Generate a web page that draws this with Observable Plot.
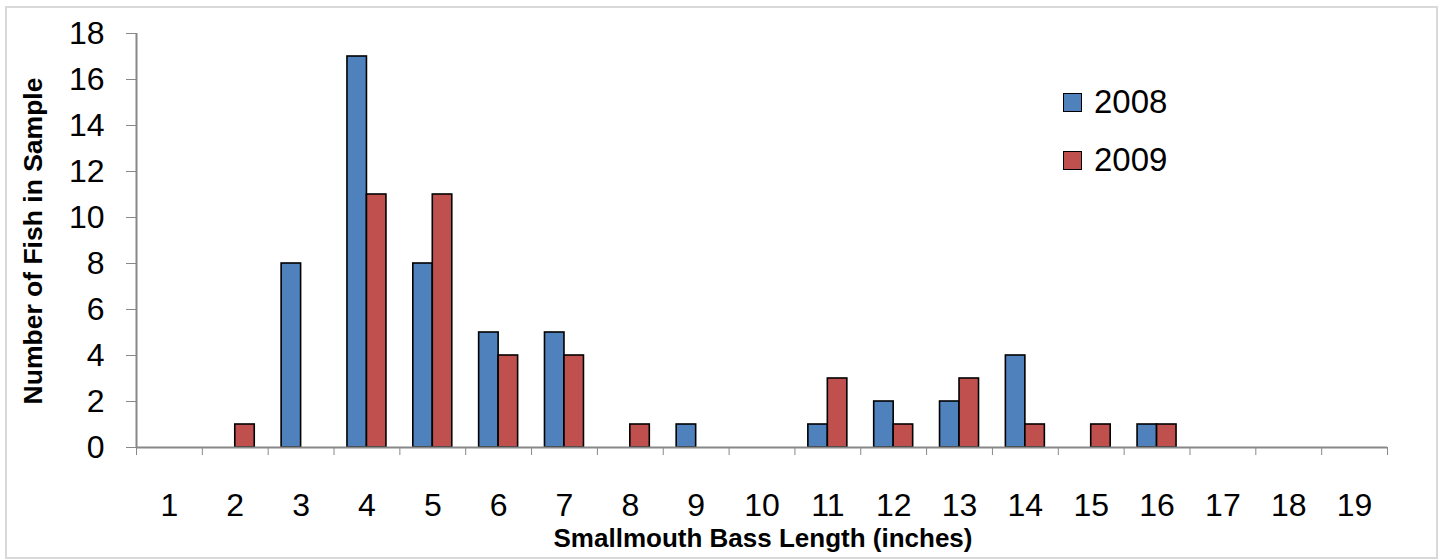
<!DOCTYPE html>
<html>
<head>
<meta charset="utf-8">
<script src="https://cdn.jsdelivr.net/npm/d3@7"></script>
<script src="https://cdn.jsdelivr.net/npm/@observablehq/plot@0.6"></script>
<style>
  html, body { margin: 0; padding: 0; background: #fff; }
  #wrap { position: relative; width: 1442px; height: 559px; overflow: hidden; }
  #frame { position: absolute; left: 5px; top: 6px; width: 1429px; height: 549px; border: 2px solid #d9d9d9; box-sizing: content-box; pointer-events: none; }
  #chart { position: absolute; left: 0; top: 0; }
  #legend { position: absolute; left: 1063px; top: 73px; font-family: "Liberation Sans", sans-serif; font-size: 33px; color: #000; }
  .li { display: flex; align-items: center; height: 58px; }
  .sw { width: 17px; height: 17px; border: 1.5px solid #000; margin-right: 12px; }
  svg g[aria-label="y-axis tick"] path, svg g[aria-label="x-axis tick"] path { stroke: #888; }
</style>
</head>
<body>
<div id="wrap">
  <div id="chart"></div>
  <div id="frame"></div>
  <div id="legend"></div>
</div>
<script>
const lengths = [1,2,3,4,5,6,7,8,9,10,11,12,13,14,15,16,17,18,19];
const fish2008 = [0,0,8,17,8,5,5,0,1,0,1,2,2,4,0,1,0,0,0];
const fish2009 = [0,1,0,11,11,4,4,1,0,0,3,1,3,1,1,1,0,0,0];
const years = ["2008", "2009"];
const colors = ["#4F81BD", "#C0504D"];
const yTicks = [0,2,4,6,8,10,12,14,16,18];

const barW = 0.296;
const rows = [];
lengths.forEach((len, i) => {
  rows.push({len, year: "2008", v: fish2008[i]});
  rows.push({len, year: "2009", v: fish2009[i]});
});
const bars = rows.filter(d => d.v > 0);
const boundaries = [lengths[0] - 0.5, ...lengths.map(l => l + 0.5)];

const font = "'Liberation Sans', sans-serif";
const plot = Plot.plot({
  width: 1442,
  height: 559,
  marginLeft: 136,
  marginRight: 55,
  marginTop: 33,
  marginBottom: 112,
  style: {fontFamily: font, fontSize: "32px", background: "transparent", color: "#000"},
  x: {domain: [0.5, 19.5]},
  y: {domain: [0, 18]},
  color: {domain: years, range: colors},
  marks: [
    Plot.rectY(bars, {
      x1: d => d.year === "2008" ? d.len - barW : d.len,
      x2: d => d.year === "2008" ? d.len : d.len + barW,
      y: "v",
      fill: "year",
      stroke: "#000",
      strokeWidth: 1.6
    }),
    Plot.axisY({ticks: yTicks, tickSize: 10, tickPadding: 22, label: null, fontSize: 32, stroke: "#888"}),
    Plot.axisX({ticks: boundaries, tickSize: 8, tickFormat: () => "", label: null, stroke: "#888"}),
    Plot.axisX({ticks: lengths, tickSize: 0, tickPadding: 46, label: null, fontSize: 32, tickFormat: d => String(d)}),
    Plot.ruleY([0], {stroke: "#888", strokeWidth: 2}),
    Plot.ruleX([0.5], {stroke: "#888", strokeWidth: 2})
  ]
});
document.getElementById("chart").appendChild(plot);

const svg = d3.select(plot);
svg.append("text")
  .attr("x", 763).attr("y", 547)
  .attr("text-anchor", "middle")
  .attr("font-family", font).attr("font-weight", "bold").attr("font-size", 26)
  .text("Smallmouth Bass Length (inches)");
svg.append("text")
  .attr("transform", "translate(42,241) rotate(-90)")
  .attr("text-anchor", "middle")
  .attr("font-family", font).attr("font-weight", "bold").attr("font-size", 26.5)
  .text("Number of Fish in Sample");

const legend = d3.select("#legend");
years.forEach((y, i) => {
  const row = legend.append("div").attr("class", "li");
  row.append("div").attr("class", "sw").style("background", colors[i]);
  row.append("span").text(y);
});
</script>
</body>
</html>
